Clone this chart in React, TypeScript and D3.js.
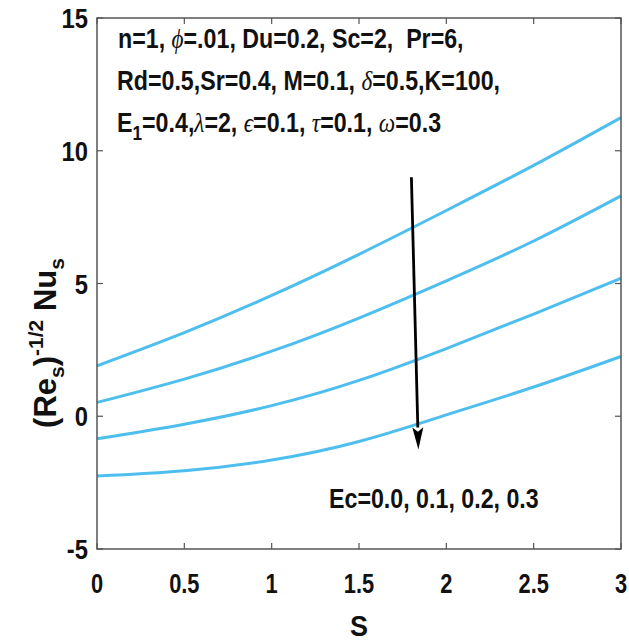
import React from "react";
import * as d3 from "d3";

const sValues = [0, 0.5, 1, 1.5, 2, 2.5, 3];
const nuEc00 = [1.9, 3.15, 4.55, 6.1, 7.75, 9.45, 11.25];
const nuEc01 = [0.52, 1.4, 2.45, 3.7, 5.1, 6.6, 8.3];
const nuEc02 = [-0.85, -0.3, 0.4, 1.35, 2.55, 3.85, 5.2];
const nuEc03 = [-2.25, -2.05, -1.65, -0.95, 0.05, 1.1, 2.25];
const seriesList = [nuEc00, nuEc01, nuEc02, nuEc03];

const xTicks = [0, 0.5, 1, 1.5, 2, 2.5, 3];
const yTicks = [-5, 0, 5, 10, 15];

const arrowFrom = [1.8, 9.0];
const arrowTo = [1.84, -1.25];

const W = 629;
const H = 644;
const L = 97, R = 621, T = 18, B = 549;

const LINE_COLOR = "#4DBEEE";
const AXIS_COLOR = "#555";
const FONT = "'Liberation Sans', Arial, sans-serif";
const GREEK = "'Liberation Serif', 'Times New Roman', serif";

function SText({ x, y, sx = 0.78, size = 28, anchor = "start", children }: any) {
  return (
    <text
      transform={`translate(${x},${y}) scale(${sx},1)`}
      textAnchor={anchor}
      fontFamily={FONT}
      fontWeight="bold"
      fontSize={size}
      fill="#111"
      style={{ whiteSpace: "pre" }}
    >
      {children}
    </text>
  );
}

function G({ children }: any) {
  return (
    <tspan fontFamily={GREEK} fontStyle="italic" fontWeight="normal">
      {children}
    </tspan>
  );
}

export default function App() {
  const x = d3.scaleLinear().domain([0, 3]).range([L, R]);
  const y = d3.scaleLinear().domain([-5, 15]).range([B, T]);
  const line = d3
    .line<number>()
    .x((_, i) => x(sValues[i]))
    .y((d) => y(d))
    .curve(d3.curveNatural);

  const tickLen = 6;
  const ax1 = x(arrowFrom[0]), ay1 = y(arrowFrom[1]);
  const ax2 = x(arrowTo[0]), ay2 = y(arrowTo[1]);
  const ang = Math.atan2(ay2 - ay1, ax2 - ax1);
  const headLen = 22, headW = 5.5;
  const bx = ax2 - headLen * Math.cos(ang), by = ay2 - headLen * Math.sin(ang);
  const px = -Math.sin(ang) * headW, py = Math.cos(ang) * headW;

  return (
    <svg
      width={W}
      height={H}
      style={{ position: "absolute", left: 0, top: 0, background: "#fff" }}
    >
      <rect x={0} y={0} width={W} height={H} fill="#fff" />
      {seriesList.map((s, i) => (
        <path key={i} d={line(s) || ""} fill="none" stroke={LINE_COLOR} strokeWidth={3} />
      ))}

      {/* frame */}
      <rect x={L} y={T} width={R - L} height={B - T} fill="none" stroke={AXIS_COLOR} strokeWidth={1.5} />
      {xTicks.map((t) => (
        <g key={"xt" + t}>
          <line x1={x(t)} x2={x(t)} y1={B} y2={B - tickLen} stroke={AXIS_COLOR} strokeWidth={1.2} />
          <line x1={x(t)} x2={x(t)} y1={T} y2={T + tickLen} stroke={AXIS_COLOR} strokeWidth={1.2} />
          <SText x={x(t)} y={593} anchor="middle">{String(t)}</SText>
        </g>
      ))}
      {yTicks.map((t) => (
        <g key={"yt" + t}>
          <line x1={L} x2={L + tickLen} y1={y(t)} y2={y(t)} stroke={AXIS_COLOR} strokeWidth={1.2} />
          <line x1={R} x2={R - tickLen} y1={y(t)} y2={y(t)} stroke={AXIS_COLOR} strokeWidth={1.2} />
          <SText x={88} y={y(t) + 10} anchor="end" sx={0.85}>{String(t)}</SText>
        </g>
      ))}

      {/* axis labels */}
      <SText x={(L + R) / 2} y={636} anchor="middle" size={30} sx={0.9}>S</SText>
      <text
        transform={`translate(56,343) rotate(-90)`}
        textAnchor="middle"
        fontFamily={FONT}
        fontWeight="bold"
        fontSize={31}
        fill="#111"
      >
        (Re<tspan fontSize={21} dy={8}>s</tspan>
        <tspan dy={-8}>)</tspan>
        <tspan fontSize={21} dy={-13}>-1/2</tspan>
        <tspan dy={13}> Nu</tspan>
        <tspan fontSize={21} dy={8}>s</tspan>
      </text>

      {/* parameter annotation */}
      <SText x={118} y={48} size={27} sx={0.86}>
        {"n=1, "}<G>ϕ</G>{"=.01, Du=0.2, Sc=2,  Pr=6,"}
      </SText>
      <SText x={117} y={90} size={27} sx={0.86}>
        {"Rd=0.5,Sr=0.4, M=0.1, "}<G>δ</G>{"=0.5,K=100,"}
      </SText>
      <SText x={117} y={132} size={27} sx={0.86}>
        E<tspan fontSize={20} dy={8}>1</tspan>
        <tspan dy={-8}>=0.4,</tspan>
        <G>λ</G>{"=2, "}<G>ϵ</G>{"=0.1, "}<G>τ</G>{"=0.1, "}<G>ω</G>{"=0.3"}
      </SText>

      {/* arrow */}
      <line x1={ax1} y1={ay1} x2={bx} y2={by} stroke="#000" strokeWidth={2.8} />
      <path
        d={`M${ax2},${ay2} L${bx + px},${by + py} L${bx + (ax2 - bx) * 0.2},${by + (ay2 - by) * 0.2} L${bx - px},${by - py} Z`}
        fill="#000"
      />
      <SText x={329} y={508} size={27} sx={0.86}>Ec=0.0, 0.1, 0.2, 0.3</SText>
    </svg>
  );
}
